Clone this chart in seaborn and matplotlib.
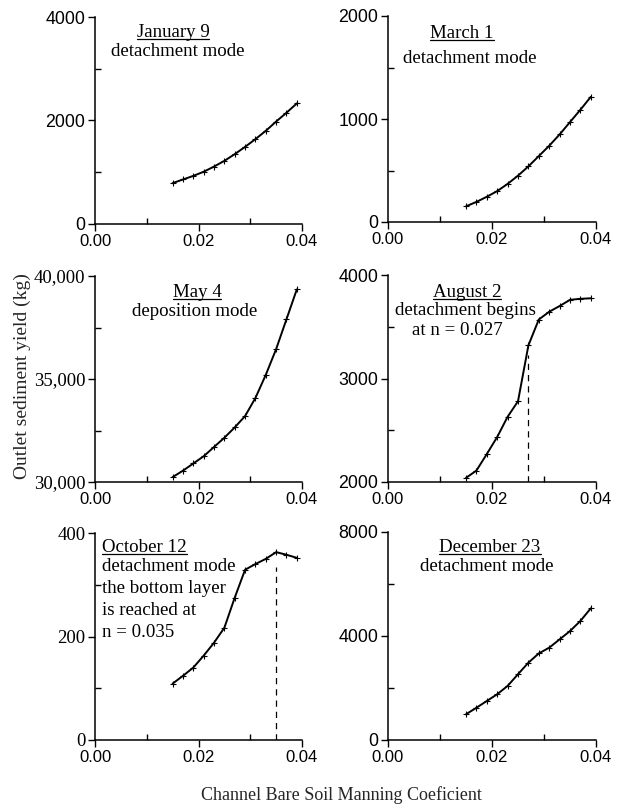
import matplotlib
matplotlib.use("Agg")
import matplotlib.pyplot as plt
import seaborn as sns
import pandas as pd
from matplotlib.ticker import MultipleLocator, FuncFormatter
from matplotlib.lines import Line2D

# Manning n values (x) shared by all panels
n_values = [0.015, 0.017, 0.019, 0.021, 0.023, 0.025, 0.027,
            0.029, 0.031, 0.033, 0.035, 0.037, 0.039]

jan9 = [790, 860, 930, 1010, 1110, 1220, 1350, 1490, 1640, 1800, 1980, 2150, 2330]
mar1 = [152, 195, 245, 300, 370, 450, 540, 640, 740, 850, 970, 1090, 1215]
may4 = [30240, 30550, 30900, 31250, 31700, 32150, 32650, 33200, 34080,
        35200, 36450, 37900, 39350]
aug2 = [2040, 2110, 2270, 2435, 2630, 2780, 3320, 3570, 3645, 3700, 3760, 3770, 3775]
oct12 = [109, 124, 140, 163, 188, 217, 275, 329, 340, 350, 363, 358, 352]
dec23 = [990, 1240, 1500, 1760, 2080, 2530, 2975, 3330, 3550, 3870, 4190, 4580, 5065]

# dashed markers: (n, y bottom, y top)
aug_dash = (0.027, 2000, 3230)
oct_dash = (0.035, 0, 335)

sns.set_style("ticks")
plt.rcParams['font.family'] = ['Liberation Serif', 'DejaVu Serif']

fig = plt.figure(figsize=(6.26, 8.08), dpi=100)
W, H = 626, 808


def add_axes(left, top, right, bottom):
    return fig.add_axes([left / W, 1 - bottom / H, (right - left) / W, (bottom - top) / H])


panels = [
    dict(pos=(95, 17, 302, 224), y=jan9, ylim=(0, 4000), major=2000, minor=1000,
         fmt="{:.0f}", sans=True,
         texts=[("January 9", 0.377, 0.928, True, 'center'),
                ("detachment mode", 0.401, 0.836, False, 'center')]),
    dict(pos=(388, 16, 596, 222), y=mar1, ylim=(0, 2000), major=1000, minor=500,
         fmt="{:.0f}", sans=True,
         texts=[("March 1", 0.356, 0.917, True, 'center'),
                ("detachment mode", 0.394, 0.80, False, 'center')]),
    dict(pos=(95, 276, 302, 482), y=may4, ylim=(30000, 40000), major=5000, minor=2500,
         fmt="{:,.0f}", sans=False,
         texts=[("May 4", 0.493, 0.922, True, 'center'),
                ("deposition mode", 0.483, 0.830, False, 'center')]),
    dict(pos=(388, 275, 596, 482), y=aug2, ylim=(2000, 4000), major=1000, minor=500,
         fmt="{:.0f}", sans=True, dash=aug_dash,
         texts=[("August 2", 0.38, 0.918, True, 'center'),
                ("detachment begins", 0.37, 0.831, False, 'center'),
                ("at n = 0.027", 0.332, 0.734, False, 'center')]),
    dict(pos=(95, 533, 302, 740), y=oct12, ylim=(0, 400), major=200, minor=100,
         fmt="{:.0f}", sans=False, dash=oct_dash,
         texts=[("October 12", 0.034, 0.932, True, 'left'),
                ("detachment mode", 0.034, 0.841, False, 'left'),
                ("the bottom layer", 0.034, 0.734, False, 'left'),
                ("is reached at", 0.034, 0.628, False, 'left'),
                ("n = 0.035", 0.034, 0.522, False, 'left')]),
    dict(pos=(388, 532, 596, 740), y=dec23, ylim=(0, 8000), major=4000, minor=2000,
         fmt="{:.0f}", sans=True,
         texts=[("December 23", 0.49, 0.928, True, 'center'),
                ("detachment mode", 0.476, 0.837, False, 'center')]),
]

# offset (in axes fraction) from visual centre of a line down to its baseline
BASE = 0.026

underlined = []
for p in panels:
    ax = add_axes(*p["pos"])
    df = pd.DataFrame({"n": n_values, "yield": p["y"]})
    sns.lineplot(data=df, x="n", y="yield", ax=ax, color="black", linewidth=1.4,
                 marker="+", markersize=4, markeredgewidth=0.8, markeredgecolor="black")
    if "dash" in p:
        xd, y0, y1 = p["dash"]
        ax.plot([xd, xd], [y0, y1], color="black", linestyle=(0, (5, 4)), linewidth=0.9)
    ax.set_xlim(0, 0.04)
    ax.set_ylim(*p["ylim"])
    ax.xaxis.set_major_locator(MultipleLocator(0.02))
    ax.xaxis.set_minor_locator(MultipleLocator(0.01))
    ax.yaxis.set_major_locator(MultipleLocator(p["major"]))
    ax.yaxis.set_minor_locator(MultipleLocator(p["minor"]))
    ax.xaxis.set_major_formatter(FuncFormatter(lambda v, _: "{:.2f}".format(v)))
    f = p["fmt"]
    ax.yaxis.set_major_formatter(FuncFormatter(lambda v, _, f=f: f.format(v)))
    ax.set_xlabel("")
    ax.set_ylabel("")
    sns.despine(ax=ax)
    for s in ["left", "bottom"]:
        ax.spines[s].set_linewidth(1.1)
        ax.spines[s].set_color("black")
    ax.tick_params(axis="both", which="major", direction="out", length=5, width=1,
                   colors="black", pad=2)
    ax.tick_params(axis="both", which="minor", direction="in", length=4, width=1,
                   colors="black")
    fam = ['Liberation Sans', 'DejaVu Sans']
    for lab in ax.get_xticklabels():
        lab.set_family(fam)
        lab.set_fontsize(12)
    for lab in ax.get_yticklabels():
        lab.set_family(fam if p["sans"] else ['Liberation Serif'])
        lab.set_fontsize(12.8 if p["sans"] else 13.5)
    for txt, xf, yf, ul, ha in p["texts"]:
        t = ax.text(xf, yf - BASE, txt, transform=ax.transAxes, ha=ha, va="baseline",
                    fontsize=13.6, color="black")
        if ul:
            underlined.append(t)

fig.text(0.035, 0.534, "Outlet sediment yield (kg)", rotation=90, ha="center",
         va="center", fontsize=14)
fig.text(0.545, 0.016, "Channel Bare Soil Manning Coeficient", ha="center",
         va="center", fontsize=13)

# underline the date headings, just below the baseline
fig.canvas.draw()
renderer = fig.canvas.get_renderer()
inv = fig.transFigure.inverted()
for t in underlined:
    bb = t.get_window_extent(renderer)
    base_y = t.get_transform().transform(t.get_position())[1]
    (x0, y0), (x1, _) = inv.transform([(bb.x0, base_y - 2), (bb.x1, base_y - 2)])
    fig.add_artist(Line2D([x0, x1], [y0, y0], transform=fig.transFigure,
                          color="black", linewidth=0.9))

fig.savefig("out.png", dpi=100)
